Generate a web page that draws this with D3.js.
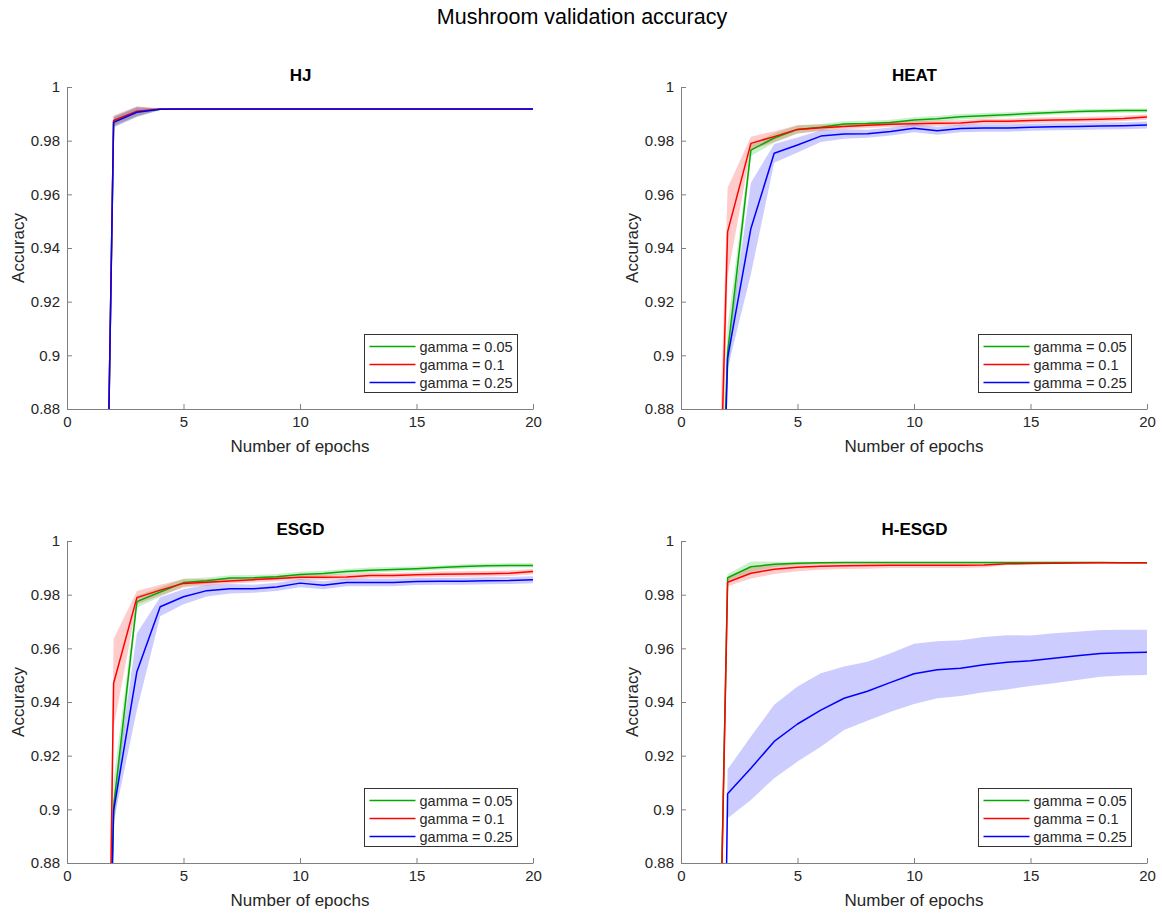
<!DOCTYPE html>
<html>
<head>
<meta charset="utf-8">
<script src="https://cdn.jsdelivr.net/npm/d3@7"></script>
<style>
  html, body { margin: 0; padding: 0; background: #fff; }
  svg { display: block; font-family: "Liberation Sans", Arial, Helvetica, sans-serif; }
</style>
</head>
<body>
<svg id="chart" width="1162" height="914"></svg>
<script>
// Validation accuracy per epoch (mean and std over runs) for each optimiser and gamma.
const epochs = d3.range(1, 21);
const gammaLabels = ["gamma = 0.05", "gamma = 0.1", "gamma = 0.25"];
const seriesColors = ["#00aa00", "#ff0000", "#0000ff"];
const panelTitles = ["HJ", "HEAT", "ESGD", "H-ESGD"];
const xTicks = [0, 5, 10, 15, 20];
const yTicks = [0.88, 0.9, 0.92, 0.94, 0.96, 0.98, 1];
const yTickLabels = ["0.88", "0.9", "0.92", "0.94", "0.96", "0.98", "1"];

// HJ
const hjMeanG = [0.452, 0.9872, 0.9908, 0.9917, 0.9918, 0.9918, 0.9918, 0.9918, 0.9918, 0.9918, 0.9918, 0.9918, 0.9918, 0.9918, 0.9918, 0.9918, 0.9918, 0.9918, 0.9918, 0.9918];
const hjMeanR = [0.450, 0.9875, 0.9910, 0.9918, 0.9918, 0.9918, 0.9918, 0.9918, 0.9918, 0.9918, 0.9918, 0.9918, 0.9918, 0.9918, 0.9918, 0.9918, 0.9918, 0.9918, 0.9918, 0.9918];
const hjMeanB = [0.452, 0.9868, 0.9906, 0.9917, 0.9918, 0.9918, 0.9918, 0.9918, 0.9918, 0.9918, 0.9918, 0.9918, 0.9918, 0.9918, 0.9918, 0.9918, 0.9918, 0.9918, 0.9918, 0.9918];
const hjStdG = [0.05, 0.0019, 0.0018, 0.0003, 0.0001, 0.0001, 0.0001, 0.0001, 0.0001, 0.0001, 0.0001, 0.0001, 0.0001, 0.0001, 0.0001, 0.0001, 0.0001, 0.0001, 0.0001, 0.0001];
const hjStdR = [0.05, 0.0019, 0.0018, 0.0003, 0.0001, 0.0001, 0.0001, 0.0001, 0.0001, 0.0001, 0.0001, 0.0001, 0.0001, 0.0001, 0.0001, 0.0001, 0.0001, 0.0001, 0.0001, 0.0001];
const hjStdB = [0.05, 0.0019, 0.0018, 0.0003, 0.0001, 0.0001, 0.0001, 0.0001, 0.0001, 0.0001, 0.0001, 0.0001, 0.0001, 0.0001, 0.0001, 0.0001, 0.0001, 0.0001, 0.0001, 0.0001];

// HEAT
const heatMeanG = [0.640, 0.901, 0.9765, 0.9810, 0.9842, 0.9850, 0.9862, 0.9864, 0.9868, 0.9877, 0.9882, 0.9889, 0.9893, 0.9897, 0.9901, 0.9905, 0.9909, 0.9911, 0.9912, 0.9912];
const heatMeanR = [0.632, 0.946, 0.9790, 0.9815, 0.9842, 0.9848, 0.9853, 0.9857, 0.9861, 0.9863, 0.9865, 0.9866, 0.9872, 0.9872, 0.9875, 0.9877, 0.9878, 0.9880, 0.9883, 0.9888];
const heatMeanB = [0.580, 0.899, 0.9473, 0.9753, 0.9784, 0.9817, 0.9825, 0.9826, 0.9834, 0.9846, 0.9837, 0.9845, 0.9847, 0.9847, 0.9850, 0.9852, 0.9853, 0.9855, 0.9856, 0.9858];
const heatStdG = [0.05, 0.010, 0.0022, 0.0018, 0.0015, 0.0012, 0.0010, 0.0010, 0.0010, 0.0010, 0.0010, 0.0010, 0.0010, 0.0009, 0.0009, 0.0008, 0.0008, 0.0008, 0.0008, 0.0008];
const heatStdR = [0.05, 0.0165, 0.0025, 0.0020, 0.0015, 0.0012, 0.0010, 0.0010, 0.0010, 0.0010, 0.0010, 0.0010, 0.0010, 0.0010, 0.0010, 0.0010, 0.0010, 0.0010, 0.0010, 0.0010];
const heatStdB = [0.05, 0.004, 0.0170, 0.0035, 0.0028, 0.0022, 0.0018, 0.0015, 0.0015, 0.0015, 0.0015, 0.0014, 0.0014, 0.0014, 0.0013, 0.0013, 0.0013, 0.0013, 0.0013, 0.0013];

// ESGD
const esgdMeanG = [0.500, 0.901, 0.9774, 0.9810, 0.9845, 0.9852, 0.9862, 0.9863, 0.9867, 0.9875, 0.9879, 0.9886, 0.9891, 0.9894, 0.9897, 0.9901, 0.9905, 0.9908, 0.9909, 0.9909];
const esgdMeanR = [0.340, 0.947, 0.9789, 0.9817, 0.9842, 0.9846, 0.9851, 0.9856, 0.9860, 0.9865, 0.9865, 0.9866, 0.9871, 0.9871, 0.9874, 0.9876, 0.9877, 0.9878, 0.9880, 0.9886];
const esgdMeanB = [0.500, 0.8995, 0.9513, 0.9755, 0.9792, 0.9815, 0.9822, 0.9822, 0.9829, 0.9843, 0.9835, 0.9845, 0.9845, 0.9845, 0.9849, 0.9850, 0.9850, 0.9852, 0.9853, 0.9856];
const esgdStdG = [0.05, 0.010, 0.0022, 0.0018, 0.0015, 0.0012, 0.0010, 0.0010, 0.0010, 0.0010, 0.0010, 0.0010, 0.0010, 0.0009, 0.0009, 0.0008, 0.0008, 0.0008, 0.0008, 0.0008];
const esgdStdR = [0.05, 0.0165, 0.0025, 0.0020, 0.0015, 0.0012, 0.0010, 0.0010, 0.0010, 0.0010, 0.0010, 0.0010, 0.0010, 0.0010, 0.0010, 0.0010, 0.0010, 0.0010, 0.0010, 0.0010];
const esgdStdB = [0.05, 0.004, 0.0143, 0.0035, 0.0028, 0.0022, 0.0018, 0.0015, 0.0015, 0.0015, 0.0015, 0.0014, 0.0014, 0.0014, 0.0013, 0.0013, 0.0013, 0.0013, 0.0013, 0.0013];

// H-ESGD
const hesgdMeanG = [0.550, 0.9863, 0.9904, 0.9913, 0.9917, 0.9919, 0.9920, 0.9920, 0.9920, 0.9920, 0.9920, 0.9920, 0.9920, 0.9920, 0.9920, 0.9920, 0.9920, 0.9920, 0.9919, 0.9919];
const hesgdMeanR = [0.549, 0.9846, 0.9880, 0.9895, 0.9902, 0.9906, 0.9908, 0.9909, 0.9910, 0.9910, 0.9910, 0.9910, 0.9911, 0.9915, 0.9916, 0.9917, 0.9918, 0.9919, 0.9919, 0.9919];
const hesgdMeanB = [0.300, 0.9058, 0.9153, 0.9253, 0.9318, 0.9370, 0.9414, 0.9440, 0.9473, 0.9505, 0.9520, 0.9526, 0.9539, 0.9548, 0.9554, 0.9563, 0.9572, 0.9581, 0.9584, 0.9585];
const hesgdStdG = [0.05, 0.0013, 0.0020, 0.0010, 0.0006, 0.0004, 0.0003, 0.0003, 0.0003, 0.0003, 0.0003, 0.0003, 0.0003, 0.0003, 0.0003, 0.0003, 0.0003, 0.0003, 0.0003, 0.0003];
const hesgdStdR = [0.05, 0.0015, 0.0020, 0.0018, 0.0015, 0.0013, 0.0012, 0.0012, 0.0011, 0.0011, 0.0011, 0.0011, 0.0010, 0.0004, 0.0003, 0.0003, 0.0002, 0.0002, 0.0002, 0.0002];
const hesgdStdB = [0.05, 0.0091, 0.0118, 0.0137, 0.0140, 0.0137, 0.0118, 0.0110, 0.0109, 0.0112, 0.0106, 0.0104, 0.0103, 0.0101, 0.0094, 0.0093, 0.0090, 0.0087, 0.0085, 0.0084];

const panels = [
  { title: panelTitles[0], means: [hjMeanG, hjMeanR, hjMeanB], stds: [hjStdG, hjStdR, hjStdB] },
  { title: panelTitles[1], means: [heatMeanG, heatMeanR, heatMeanB], stds: [heatStdG, heatStdR, heatStdB] },
  { title: panelTitles[2], means: [esgdMeanG, esgdMeanR, esgdMeanB], stds: [esgdStdG, esgdStdR, esgdStdB] },
  { title: panelTitles[3], means: [hesgdMeanG, hesgdMeanR, hesgdMeanB], stds: [hesgdStdG, hesgdStdR, hesgdStdB] }
];

const svg = d3.select("#chart");
const plotW = 466, plotH = 322;
const origins = [[67, 87], [681, 87], [67, 541], [681, 541]];
const axisColor = "#262626";

svg.append("text")
  .attr("x", 582).attr("y", 24)
  .attr("text-anchor", "middle")
  .attr("font-size", 21.5)
  .attr("fill", "#000")
  .text("Mushroom validation accuracy");

const x = d3.scaleLinear().domain([0, 20]).range([0, plotW]);
const y = d3.scaleLinear().domain([0.88, 1]).range([plotH, 0]);

panels.forEach((p, i) => {
  const [ox, oy] = origins[i];
  const g = svg.append("g").attr("transform", `translate(${ox},${oy})`);

  const clipId = "clip" + i;
  g.append("clipPath").attr("id", clipId)
    .append("rect").attr("x", 0).attr("y", 0).attr("width", plotW).attr("height", plotH);

  const plot = g.append("g").attr("clip-path", `url(#${clipId})`);

  const band = d3.area()
    .x((d, k) => x(epochs[k]))
    .y0(d => y(d[0] - d[1]))
    .y1(d => y(d[0] + d[1]));
  const line = d3.line()
    .x((d, k) => x(epochs[k]))
    .y(d => y(d));

  // shaded std bands first, then mean curves on top
  p.means.forEach((m, s) => {
    plot.append("path")
      .datum(m.map((v, k) => [v, p.stds[s][k]]))
      .attr("d", band)
      .attr("fill", seriesColors[s])
      .attr("fill-opacity", 0.2)
      .attr("stroke", "none");
  });
  p.means.forEach((m, s) => {
    plot.append("path")
      .datum(m)
      .attr("d", line)
      .attr("fill", "none")
      .attr("stroke", seriesColors[s])
      .attr("stroke-width", 1.5)
      .attr("stroke-linejoin", "round");
  });

  // axes (ticks point inward)
  const xAxis = d3.axisBottom(x).tickValues(xTicks).tickFormat(d3.format("d"))
    .tickSizeInner(-5).tickSizeOuter(0).tickPadding(7);
  const yAxis = d3.axisLeft(y).tickValues(yTicks).tickFormat((d, k) => yTickLabels[k])
    .tickSizeInner(-5).tickSizeOuter(0).tickPadding(7);

  const gx = g.append("g").attr("transform", `translate(0,${plotH})`).call(xAxis);
  const gy = g.append("g").call(yAxis);
  [gx, gy].forEach(ax => {
    ax.select(".domain").attr("stroke", "#808080").attr("stroke-width", 1);
    ax.selectAll(".tick line").attr("stroke", "#808080");
    ax.selectAll(".tick text").attr("fill", axisColor).attr("font-size", 15)
      .attr("font-family", "Liberation Sans, Arial, sans-serif");
  });

  g.append("text")
    .attr("x", plotW / 2 + 0.5).attr("y", -6)
    .attr("text-anchor", "middle")
    .attr("font-size", 17).attr("font-weight", "bold")
    .attr("fill", "#000")
    .text(p.title);

  g.append("text")
    .attr("x", plotW / 2).attr("y", plotH + 43)
    .attr("text-anchor", "middle")
    .attr("font-size", 17).attr("fill", axisColor)
    .text("Number of epochs");

  g.append("text")
    .attr("transform", `translate(-43,${plotH / 2}) rotate(-90)`)
    .attr("text-anchor", "middle")
    .attr("font-size", 17).attr("fill", axisColor)
    .text("Accuracy");

  // legend
  const lg = g.append("g").attr("transform", "translate(297.5,247.5)");
  lg.append("rect").attr("width", 153).attr("height", 58)
    .attr("fill", "#fff").attr("stroke", "#333").attr("stroke-width", 1);
  gammaLabels.forEach((lab, s) => {
    const ry = 12 + s * 18;
    lg.append("line").attr("x1", 5).attr("x2", 51).attr("y1", ry).attr("y2", ry)
      .attr("stroke", seriesColors[s]).attr("stroke-width", 1.5);
    lg.append("text").attr("x", 55).attr("y", ry + 5)
      .attr("font-size", 14.5).attr("fill", "#262626")
      .text(lab);
  });
});
</script>
</body>
</html>
